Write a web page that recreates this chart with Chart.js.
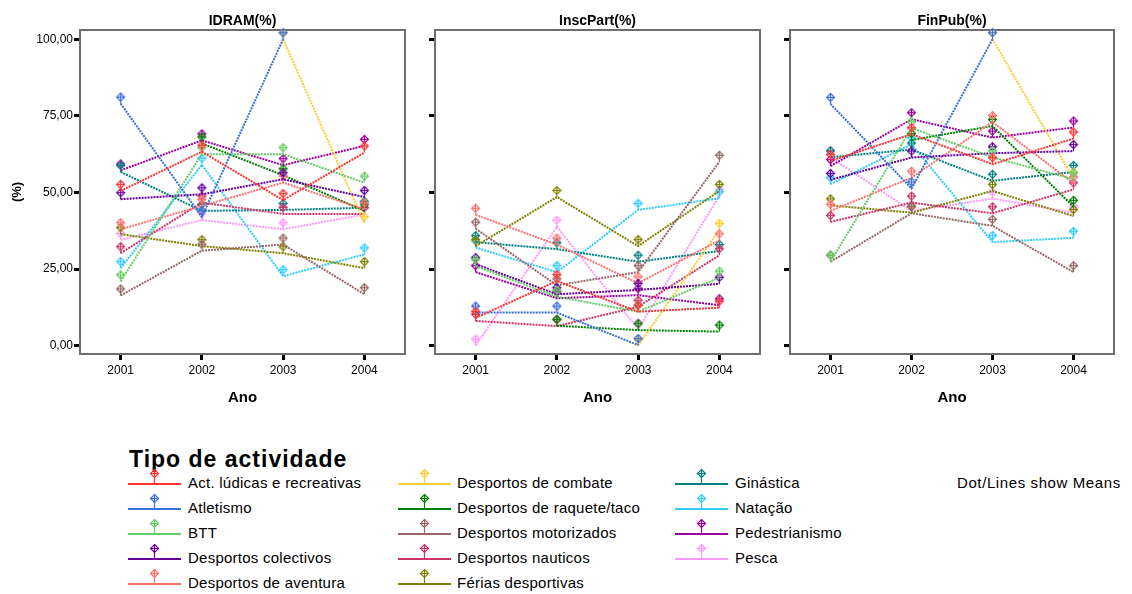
<!DOCTYPE html>
<html><head><meta charset="utf-8">
<script src="https://cdn.jsdelivr.net/npm/chart.js@4.4.1/dist/chart.umd.min.js"></script>
<style>
body{margin:0;background:#fff;width:1132px;height:594px;position:relative;overflow:hidden;font-family:"Liberation Sans",Arial,sans-serif;color:#000;}
canvas.panel{position:absolute;top:0;}
.lt{position:absolute;font-size:23px;font-weight:bold;line-height:26px;white-space:nowrap;letter-spacing:1px;}
.li{position:absolute;font-size:15px;line-height:20px;white-space:nowrap;letter-spacing:0.25px;}
.lg{position:absolute;}
</style></head><body>
<canvas id="c1" class="panel" width="420" height="420" style="left:0px"></canvas>
<canvas id="c2" class="panel" width="355" height="420" style="left:420px"></canvas>
<canvas id="c3" class="panel" width="357" height="420" style="left:775px"></canvas>
<div id="legend"></div>
<script>
// ---- data ----
const years = ['2001','2002','2003','2004'];
const yTicks = [0, 25, 50, 75, 100];
const panelTitles = ['IDRAM(%)', 'InscPart(%)', 'FinPub(%)'];
const seriesNames = [
  'Act. lúdicas e recreativas','Atletismo','BTT','Desportos colectivos','Desportos de aventura',
  'Desportos de combate','Desportos de raquete/taco','Desportos motorizados','Desportos nauticos','Férias desportivas',
  'Ginástica','Natação','Pedestrianismo','Pesca'
];
// rows follow seriesNames order; values per year 2001..2004
const idram = [
  [50.5, 63.3, 47.5, 63.0],
  [79.0, 42.0, 100.0, null],
  [21.0, 62.5, 62.5, 53.2],
  [47.8, 49.4, 54.3, 48.5],
  [38.0, 45.6, 53.2, 44.5],
  [null, null, 100.0, 40.0],
  [null, 66.0, 55.6, 44.0],
  [16.4, 31.0, 33.0, 16.8],
  [30.2, 46.7, 43.0, 43.0],
  [36.4, 32.5, 30.2, 25.3],
  [56.7, 44.0, 44.3, 45.0],
  [25.3, 59.0, 22.7, 29.8],
  [57.2, 67.0, 58.9, 65.2],
  [34.5, 41.0, 38.0, 42.8]
];
const inscPart = [
  [9.1, 21.1, 11.1, 12.4],
  [10.8, 10.8, 0.2, null],
  [26.0, 16.0, 11.1, 22.2],
  [26.6, 16.8, 18.2, 20.2],
  [42.7, 33.0, 20.4, 34.4],
  [null, null, 0.0, 37.8],
  [null, 6.5, 5.1, 4.6],
  [38.2, 19.7, 24.0, 60.0],
  [8.1, 6.4, 12.7, 29.5],
  [32.5, 48.5, 32.5, 50.5],
  [33.8, 31.5, 27.4, 30.9],
  [32.0, 24.0, 44.3, 48.1],
  [24.0, 15.5, 16.5, 13.2],
  [0.0, 38.8, 5.4, 48.9]
];
const finPub = [
  [60.3, 69.0, 59.2, 67.6],
  [78.9, 51.3, 100.0, null],
  [27.5, 71.0, 61.5, 54.3],
  [54.1, 61.4, 62.8, 63.5],
  [44.0, 54.8, 73.0, 53.0],
  [null, null, 100.0, 54.5],
  [null, 67.1, 71.7, 45.3],
  [27.4, 43.2, 39.1, 24.0],
  [40.4, 46.7, 43.2, 51.0],
  [45.8, 43.4, 50.5, 42.3],
  [61.5, 64.0, 53.8, 56.7],
  [52.7, 65.7, 33.8, 35.2],
  [58.6, 73.9, 67.9, 71.2],
  [61.4, 44.0, 48.0, 43.4]
];
// ---- styles ----
const seriesColors = ['#ff3333','#3a6fd8','#66cc66','#660099','#ff7070','#ffcc33','#008000',
  '#996666','#cc3366','#808000','#008080','#33ccff','#990099','#ff99ff'];
const FONT = '"Liberation Sans", Arial, sans-serif';

function drawGlyph(g, color, cx, cy, stemTo){
  g.strokeStyle = color; g.lineWidth = 1.2;
  const r = 4;
  g.beginPath();
  g.moveTo(cx, cy - r); g.lineTo(cx + r, cy); g.lineTo(cx, cy + r); g.lineTo(cx - r, cy); g.closePath();
  g.stroke();
  g.beginPath();
  g.moveTo(cx - r, cy); g.lineTo(cx + r, cy);
  g.moveTo(cx, cy - r); g.lineTo(cx, stemTo);
  g.stroke();
}
function makeMarker(color){
  const c = document.createElement('canvas'); c.width = 11; c.height = 28;
  drawGlyph(c.getContext('2d'), color, 5.5, 7.5, 14);
  return c;
}
const markers = seriesColors.map(makeMarker);

const boxPlugin = {
  id: 'box',
  beforeDatasetsDraw(chart){
    const a = chart.chartArea, ctx = chart.ctx;
    ctx.save(); ctx.strokeStyle = '#6e6e6e'; ctx.lineWidth = 2;
    ctx.strokeRect(a.left, a.top, a.right - a.left, a.bottom - a.top);
    ctx.restore();
  }
};
const panelTitlePlugin = {
  id: 'panelTitle',
  afterDraw(chart, args, opts){
    const a = chart.chartArea, ctx = chart.ctx;
    ctx.save(); ctx.fillStyle = '#000'; ctx.font = 'bold 14px ' + FONT;
    ctx.textAlign = 'center'; ctx.textBaseline = 'middle';
    ctx.fillText(opts.text, (a.left + a.right) / 2, 21);
    ctx.restore();
  }
};
const fmt = v => v.toFixed(2).replace('.', ',');

function makeChart(id, title, rows, o){
  const tickGrid = {display:true, drawOnChartArea:false, drawTicks:true, tickLength:6, tickWidth:3, tickColor:'#000'};
  new Chart(document.getElementById(id), {
    type: 'line',
    data: {
      labels: years,
      datasets: rows.map((r, i) => ({
        label: seriesNames[i], data: r, borderColor: seriesColors[i], backgroundColor: seriesColors[i],
        borderWidth: 2, borderDash: [2, 1], pointStyle: markers[i], pointRadius: 5, pointHoverRadius: 5,
        fill: false, tension: 0, clip: false, spanGaps: false
      }))
    },
    options: {
      responsive: false, animation: false, events: [],
      layout: {padding: {left: 0, right: o.rightPad, top: 30, bottom: 0}},
      plugins: {
        legend: {display: false}, tooltip: {enabled: false}, title: {display: false},
        panelTitle: {text: title}
      },
      scales: {
        x: {
          type: 'category', offset: true, grid: tickGrid, border: {display: false},
          ticks: {color: '#000', font: {family: FONT, size: 12}, padding: 3, maxRotation: 0, autoSkip: false},
          title: {display: true, text: 'Ano', color: '#000', font: {family: FONT, size: 15, weight: 'bold'}, padding: {top: 0, bottom: 13}},
          afterFit: s => { s.height = 66; }
        },
        y: {
          min: -2.7, max: 103,
          afterBuildTicks: s => { s.ticks = yTicks.map(v => ({value: v})); },
          grid: tickGrid, border: {display: false},
          ticks: {color: '#000', font: {family: FONT, size: 12}, padding: 1, callback: v => o.showY ? fmt(v) : ''},
          title: {display: o.showY, text: '(%)', color: '#000', font: {family: FONT, size: 13, weight: 'bold'}, padding: {top: 10, bottom: 0}},
          afterFit: s => { s.width = o.yWidth; }
        }
      }
    },
    plugins: [boxPlugin, panelTitlePlugin]
  });
}
makeChart('c1', panelTitles[0], idram, {rightPad: 15, yWidth: 80, showY: true});
makeChart('c2', panelTitles[1], inscPart, {rightPad: 15, yWidth: 15, showY: false});
makeChart('c3', panelTitles[2], finPub, {rightPad: 18, yWidth: 15, showY: false});

// ---- legend (HTML) ----
const lg = document.getElementById('legend');
const t = document.createElement('div'); t.className = 'lt'; t.textContent = 'Tipo de actividade';
t.style.left = '129px'; t.style.top = '446px'; lg.appendChild(t);
const glyphX = [128, 398, 675], textX = [188, 457, 735];
const rowY = [483, 508, 533, 558, 583];
const GW = 53;
seriesNames.forEach((n, i) => {
  const col = Math.floor(i / 5), row = i % 5;
  const c = document.createElement('canvas'); c.width = GW; c.height = 22; c.className = 'lg';
  c.style.left = glyphX[col] + 'px'; c.style.top = (rowY[row] - 16) + 'px';
  const g = c.getContext('2d');
  g.strokeStyle = seriesColors[i]; g.lineWidth = 2;
  g.beginPath(); g.moveTo(0, 17); g.lineTo(GW, 17); g.stroke();
  drawGlyph(g, seriesColors[i], 26.5, 6.5, 16);
  lg.appendChild(c);
  const s = document.createElement('div'); s.className = 'li'; s.textContent = n;
  s.style.left = textX[col] + 'px'; s.style.top = (rowY[row] - 10) + 'px';
  lg.appendChild(s);
});
const note = document.createElement('div'); note.className = 'li'; note.textContent = 'Dot/Lines show Means';
note.style.left = '957px'; note.style.top = '473px'; note.style.letterSpacing = '0.6px'; lg.appendChild(note);
</script>
</body></html>
